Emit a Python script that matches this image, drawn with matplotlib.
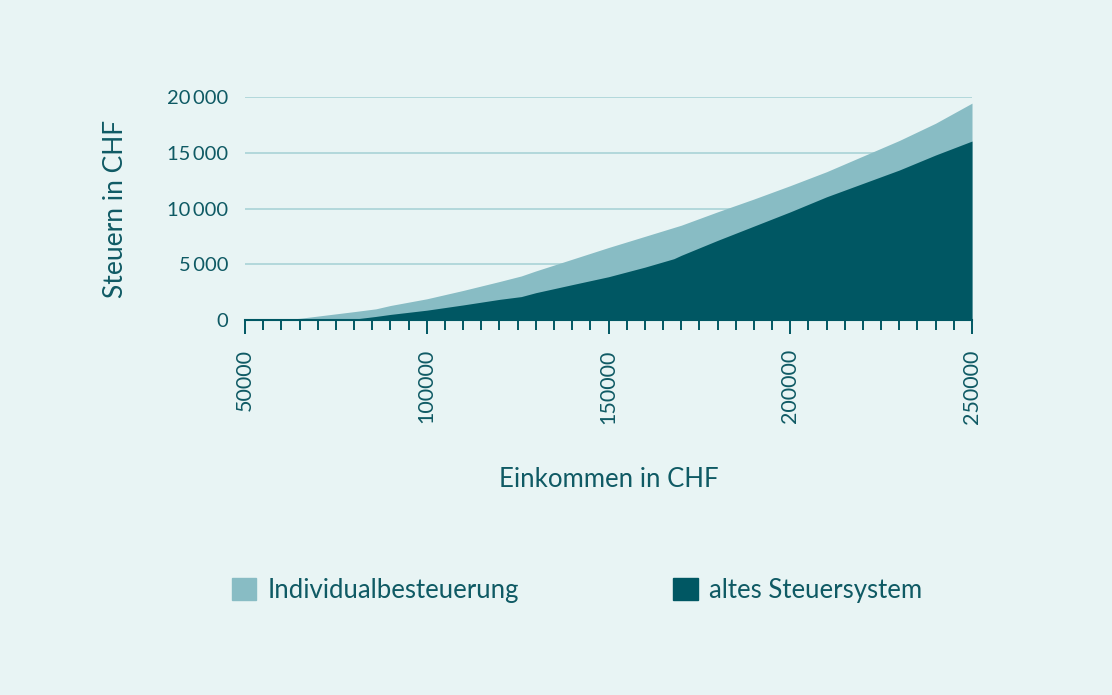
import matplotlib.pyplot as plt
from matplotlib.patches import Patch
from matplotlib.ticker import MultipleLocator, FuncFormatter

plt.rcParams['font.family'] = ['Lato', 'DejaVu Sans']

# Einkommen in CHF
einkommen = [50000, 55000, 60000, 65000, 70000, 75000, 78000, 80000, 86000, 90000,
             100000, 110000, 120000, 126000, 130000, 140000, 150000, 160000, 168000,
             170000, 180000, 190000, 200000, 210000, 220000, 230000, 240000, 250000]
# Individualbesteuerung
individual = [0, 0, 30, 150, 350, 550, 670, 750, 1000, 1300,
              1900, 2650, 3450, 3950, 4400, 5450, 6500, 7500, 8300,
              8500, 9700, 10850, 12050, 13300, 14700, 16100, 17650, 19450]
# altes Steuersystem
alt = [0, 0, 0, 0, 0, 0, 0, 80, 320, 500,
       880, 1350, 1850, 2100, 2450, 3170, 3880, 4740, 5500,
       5800, 7140, 8420, 9700, 11050, 12250, 13450, 14800, 16050]

bg = '#e8f4f4'
light = '#88bcc4'
dark = '#005763'
txt = '#0f5a64'
grid = '#a9d3d7'

fig = plt.figure(figsize=(11.12, 6.95), dpi=100, facecolor=bg)
ax = fig.add_axes([245 / 1112, 1 - 320 / 695, 727 / 1112, 223 / 695])
ax.set_facecolor(bg)

ax.fill_between(einkommen, 0, individual, color=light, lw=0, zorder=2)
ax.fill_between(einkommen, 0, alt, color=dark, lw=0, zorder=3)

ax.set_xlim(50000, 250000)
ax.set_ylim(0, 20000)

for v in [5000, 10000, 15000, 20000]:
    ax.axhline(v, color=grid, lw=1.2, zorder=1)

for s in ['top', 'right', 'left']:
    ax.spines[s].set_visible(False)
ax.spines['bottom'].set_color(dark)
ax.spines['bottom'].set_linewidth(1.5)
ax.spines['bottom'].set_zorder(4)

ax.xaxis.set_major_locator(MultipleLocator(50000))
ax.xaxis.set_minor_locator(MultipleLocator(5000))
ax.yaxis.set_major_locator(MultipleLocator(5000))
ax.tick_params(axis='x', which='major', length=10, width=1.4, color=dark, pad=11,
               labelsize=15.5, labelcolor=txt, labelrotation=90)
ax.tick_params(axis='x', which='minor', length=7, width=1.4, color=dark)
ax.tick_params(axis='y', length=0, pad=12, labelsize=14.5, labelcolor=txt)
ax.xaxis.set_major_formatter(FuncFormatter(lambda v, p: '%d' % v))
ax.yaxis.set_major_formatter(FuncFormatter(
    lambda v, p: ('%d' % v) if v < 1000 else '%d\u2009%03d' % (v // 1000, v % 1000)))

ax.set_xlabel('Einkommen in CHF', fontsize=18.5, color=txt, labelpad=31)
ax.set_ylabel('Steuern in CHF', fontsize=19, color=txt, labelpad=28)

handles = [Patch(color=light, label='Individualbesteuerung'),
           Patch(color=dark, label='altes Steuersystem')]
leg = fig.legend(handles=handles, loc='center', bbox_to_anchor=(0.519, 0.150), ncol=2,
                 frameon=False, fontsize=18.5, handlelength=0.95, handleheight=0.95,
                 handletextpad=0.45, columnspacing=6.0)
for t in leg.get_texts():
    t.set_color(txt)

fig.savefig('out.png', dpi=100, facecolor=bg)
